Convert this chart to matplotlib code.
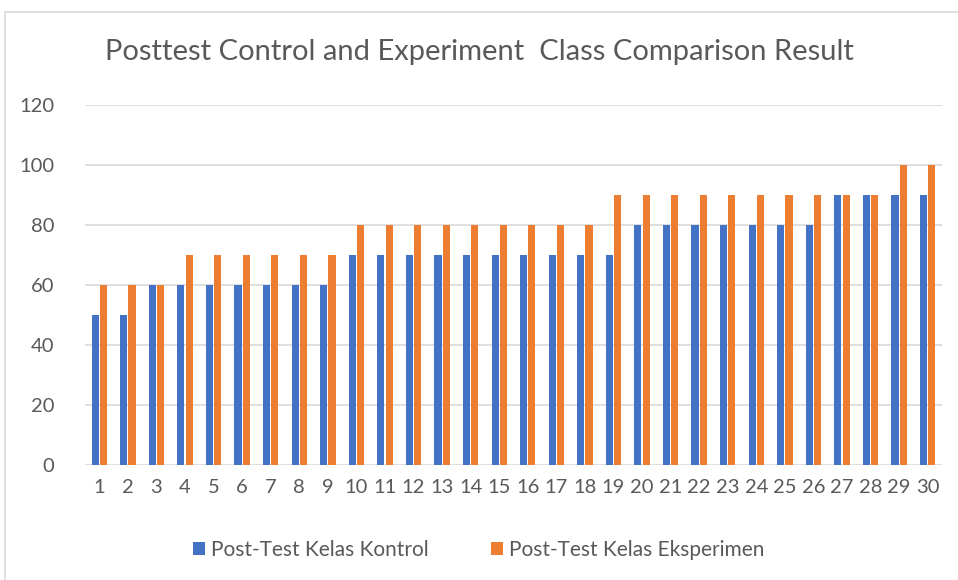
import matplotlib.pyplot as plt
import numpy as np
from matplotlib.patches import Rectangle

plt.rcParams['font.family'] = ['Lato', 'DejaVu Sans']

students = [str(i) for i in range(1, 31)]
kontrol = [50, 50, 60, 60, 60, 60, 60, 60, 60,
           70, 70, 70, 70, 70, 70, 70, 70, 70, 70,
           80, 80, 80, 80, 80, 80, 80,
           90, 90, 90, 90]
eksperimen = [60, 60, 60, 70, 70, 70, 70, 70, 70,
              80, 80, 80, 80, 80, 80, 80, 80, 80,
              90, 90, 90, 90, 90, 90, 90, 90, 90, 90,
              100, 100]

fig = plt.figure(figsize=(9.58, 5.8), dpi=100)
fig.patches.append(Rectangle((5 / 958, -0.05), 1, 1.05 - 12 / 580, transform=fig.transFigure,
                             fill=False, edgecolor='#d9d9d9', linewidth=1.2))

ax = fig.add_axes([85 / 958, 1 - 465 / 580, (942 - 85) / 958, (465 - 105) / 580])
x = np.arange(len(students))
w = 0.25
ax.bar(x - 0.145, kontrol, w, color='#4472C4', label='Post-Test Kelas Kontrol', zorder=3)
ax.bar(x + 0.145, eksperimen, w, color='#ED7D31', label='Post-Test Kelas Eksperimen', zorder=3)

ax.set_xlim(-0.5, len(students) - 0.5)
ax.set_ylim(0, 120)
ax.set_yticks(range(0, 121, 20))
ax.set_xticks(x)
ax.set_xticklabels(students)
ax.grid(axis='y', color='#d9d9d9', linewidth=1.2, zorder=0)
for s in ax.spines.values():
    s.set_visible(False)
ax.tick_params(length=0, labelsize=14.5, colors='#595959', pad=10)
ax.tick_params(axis='y', pad=22)

fig.text(0.5, 1 - 52 / 580, 'Posttest Control and Experiment  Class Comparison Result',
         ha='center', va='center', fontsize=21, color='#595959')
fig.legend(loc='center', bbox_to_anchor=(0.5, 1 - 550 / 580), ncol=2, frameon=False,
           fontsize=15, labelcolor='#595959', handlelength=0.55, handleheight=0.55,
           columnspacing=3, handletextpad=0.3)

fig.savefig('out.png', dpi=100)
